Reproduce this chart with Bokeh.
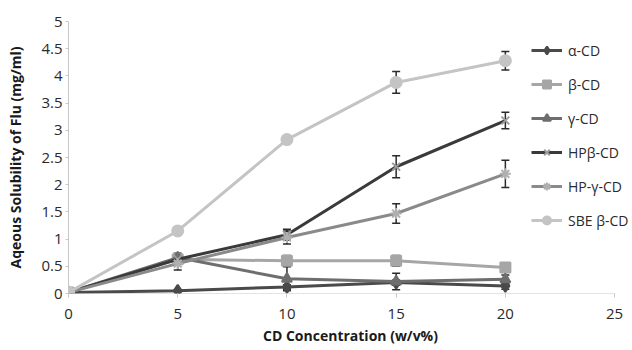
from bokeh.plotting import figure
from bokeh.models import ColumnDataSource, Whisker, Legend, LegendItem, Range1d, TeeHead
from bokeh.embed import file_html
from bokeh.resources import INLINE

conc = [0, 5, 10, 15, 20]
series_names = ["α-CD", "β-CD", "γ-CD", "HPβ-CD", "HP-γ-CD", "SBE β-CD"]
alpha_cd = [0.02, 0.05, 0.12, 0.2, 0.14]
beta_cd = [0.02, 0.63, 0.6, 0.6, 0.48]
gamma_cd = [0.02, 0.66, 0.27, 0.22, 0.26]
hpb_cd = [0.02, 0.63, 1.08, 2.33, 3.18]
hpg_cd = [0.02, 0.55, 1.03, 1.47, 2.2]
sbe_cd = [0.02, 1.15, 2.83, 3.88, 4.28]

alpha_err = [0.0, 0.02, 0.04, 0.05, 0.06]
beta_err = [0.0, 0.08, 0.1, 0.1, 0.03]
gamma_err = [0.0, 0.08, 0.22, 0.15, 0.08]
hpb_err = [0.0, 0.08, 0.1, 0.2, 0.15]
hpg_err = [0.0, 0.12, 0.12, 0.18, 0.25]
sbe_err = [0.0, 0.03, 0.04, 0.2, 0.17]

x_ticks = [0, 5, 10, 15, 20, 25]
y_ticks = [0, 0.5, 1, 1.5, 2, 2.5, 3, 3.5, 4, 4.5, 5]

# x range extends a little past 25 so the legend (which sits to the right
# of the last tick) stays inside the frame
p = figure(width=632, height=350, output_backend="svg", toolbar_location=None,
           x_range=Range1d(0, 25.82), y_range=Range1d(0, 5),
           min_border_left=68, min_border_right=0, min_border_top=21, min_border_bottom=57)
p.outline_line_color = None
p.xgrid.visible = False
p.ygrid.visible = False
p.background_fill_color = "white"

font = "Open Sans"
for ax in (p.xaxis, p.yaxis):
    ax.major_tick_line_color = "#c8c8c8"
    ax.minor_tick_line_color = None
    ax.major_tick_in = 0
    ax.major_label_text_font = font
    ax.major_label_text_font_size = "15px"
    ax.major_label_text_color = "#2a2a2a"
    ax.axis_label_text_font = font
    ax.axis_label_text_font_size = "14px"
    ax.axis_label_text_font_style = "bold"
    ax.axis_label_text_color = "#1a1a1a"
p.yaxis.axis_line_color = "#c8c8c8"
p.xaxis.axis_line_color = None
p.xaxis.major_tick_out = 4
p.yaxis.major_tick_out = 3
p.xaxis.major_label_standoff = 11
p.yaxis.major_label_standoff = 3
p.xaxis.ticker = x_ticks
p.yaxis.ticker = y_ticks
p.yaxis.major_label_overrides = {0: "0", 0.5: "0.5", 1: "1", 1.5: "1.5", 2: "2", 2.5: "2.5",
                                 3: "3", 3.5: "3.5", 4: "4", 4.5: "4.5", 5: "5"}
p.xaxis.axis_label = "CD Concentration (w/v%)"
p.yaxis.axis_label = "Aqeous Solubility of Flu (mg/ml)"
p.xaxis.axis_label_standoff = 4
p.yaxis.axis_label_standoff = 13

# x axis baseline only from first to last tick
p.segment(x0=[x_ticks[0]], y0=[y_ticks[0]], x1=[x_ticks[-1]], y1=[y_ticks[0]],
          line_color="#c8c8c8", line_width=1)

specs = [
    (alpha_cd, alpha_err, "#4a4a4a", "#4a4a4a", "diamond", 12),
    (beta_cd, beta_err, "#a6a6a6", "#a6a6a6", "square", 10),
    (gamma_cd, gamma_err, "#6e6e6e", "#6e6e6e", "triangle", 10),
    (hpb_cd, hpb_err, "#3a3a3a", "#9a9a9a", "x", 11),
    (hpg_cd, hpg_err, "#8a8a8a", "#b0b0b0", "asterisk", 11),
    (sbe_cd, sbe_err, "#c4c4c4", "#c4c4c4", "circle", 11),
]

items = []
for name, (vals, errs, lc, mc, marker, size) in zip(series_names, specs):
    src = ColumnDataSource(dict(x=conc, y=vals,
                                lo=[v - e for v, e in zip(vals, errs)],
                                hi=[v + e for v, e in zip(vals, errs)]))
    l = p.line("x", "y", source=src, line_color=lc, line_width=3)
    s = p.scatter("x", "y", source=src, marker=marker, size=size,
                  fill_color=mc, line_color=mc, line_width=2)
    w = Whisker(base="x", lower="lo", upper="hi", source=src,
                line_color="#2a2a2a", line_width=1.5,
                upper_head=TeeHead(size=8, line_color="#2a2a2a", line_width=1.5),
                lower_head=TeeHead(size=8, line_color="#2a2a2a", line_width=1.5))
    p.add_layout(w)
    items.append(LegendItem(label=name, renderers=[l, s]))

legend = Legend(items=items, location=(463, 63), orientation="vertical",
                label_text_font=font, label_text_font_size="14px",
                label_text_color="#2a2a2a", glyph_width=31, glyph_height=20,
                label_height=20, label_standoff=6, spacing=14, padding=0, margin=0,
                border_line_color=None, background_fill_alpha=0)
p.add_layout(legend)

open("out.html", "w").write(file_html(p, INLINE))
